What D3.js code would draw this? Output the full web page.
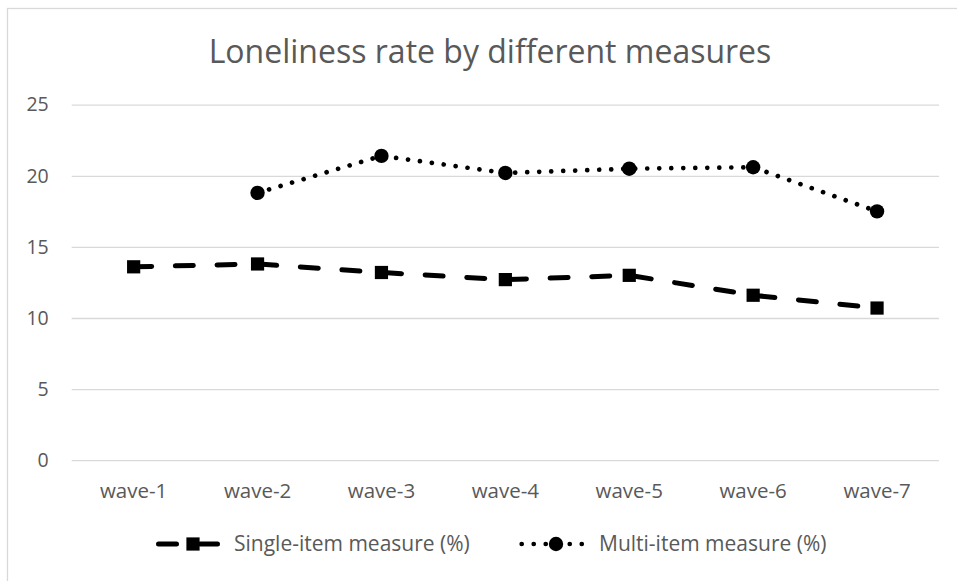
<!DOCTYPE html>
<html>
<head>
<meta charset="utf-8">
<script src="https://cdn.jsdelivr.net/npm/d3@7"></script>
<style>
  html, body { margin: 0; padding: 0; background: #fff; }
  svg { display: block; }
  text { font-family: "Open Sans", "Noto Sans", sans-serif; fill: #595959; }
</style>
</head>
<body>
<svg id="chart" width="957" height="581"></svg>
<script>
// Loneliness rate (%) per survey wave, by measure
const waves = ["wave-1", "wave-2", "wave-3", "wave-4", "wave-5", "wave-6", "wave-7"];
const singleItem = [13.6, 13.8, 13.2, 12.7, 13.0, 11.6, 10.7];
const multiItem = [null, 18.8, 21.4, 20.2, 20.5, 20.6, 17.5];
const yTicks = [0, 5, 10, 15, 20, 25];
const titleText = "Loneliness rate by different measures";
const seriesNames = ["Single-item measure (%)", "Multi-item measure (%)"];

const plot = { left: 71.7, right: 939, top: 104.7, bottom: 460.2 };

const svg = d3.select("#chart");

// chart frame
svg.append("rect")
  .attr("x", 7.5).attr("y", 8.5)
  .attr("width", 1000).attr("height", 1000)
  .attr("fill", "#fff").attr("stroke", "#d9d9d9").attr("stroke-width", 1.3);

const x = d3.scaleBand().domain(waves).range([plot.left, plot.right]);
const y = d3.scaleLinear().domain([0, 25]).range([plot.bottom, plot.top]);

// title
svg.append("text")
  .attr("x", 490).attr("y", 63)
  .attr("text-anchor", "middle")
  .style("font-size", "32px")
  .text(titleText);

// horizontal gridlines + y labels
const yAxis = d3.axisLeft(y).tickValues(yTicks)
  .tickSize(-(plot.right - plot.left)).tickPadding(23).tickFormat(d3.format("d"));
const gy = svg.append("g").attr("transform", `translate(${plot.left},0)`).call(yAxis);
gy.select(".domain").remove();
gy.selectAll(".tick line").attr("stroke", "#d9d9d9").attr("stroke-width", 1.3);
gy.selectAll(".tick text")
  .attr("fill", "#595959")
  .style("font-size", "19.5px")
  .style("font-family", "'Open Sans', sans-serif");

// category labels
const xAxis = d3.axisBottom(x).tickSize(0).tickPadding(0);
const gx = svg.append("g").attr("transform", `translate(0,${plot.bottom})`).call(xAxis);
gx.select(".domain").remove();
gx.selectAll(".tick text")
  .attr("fill", "#595959")
  .attr("dy", null)
  .attr("y", 38)
  .style("font-size", "20.5px")
  .style("font-family", "'Open Sans', sans-serif");

const cx = d => x(d) + x.bandwidth() / 2;

const dashStyle = { width: 5, dash: "18 23.7", cap: "round" };
const dotStyle = { width: 4.7, dash: "0.01 12", cap: "round" };

function drawSeries(values, style, marker) {
  const pts = waves.map((w, i) => ({ w, v: values[i] })).filter(p => p.v != null);
  const line = d3.line().x(p => cx(p.w)).y(p => y(p.v));
  svg.append("path")
    .datum(pts)
    .attr("d", line)
    .attr("fill", "none")
    .attr("stroke", "#000")
    .attr("stroke-width", style.width)
    .attr("stroke-dasharray", style.dash)
    .attr("stroke-linecap", style.cap)
    .attr("stroke-linejoin", "round");
  const g = svg.append("g");
  pts.forEach(p => marker(g, cx(p.w), y(p.v)));
}

const square = (g, px, py) => g.append("rect")
  .attr("x", px - 6.6).attr("y", py - 6.6)
  .attr("width", 13.2).attr("height", 13.2).attr("fill", "#000");
const circle = (g, px, py) => g.append("circle")
  .attr("cx", px).attr("cy", py).attr("r", 7.2).attr("fill", "#000");

drawSeries(singleItem, dashStyle, square);
drawSeries(multiItem, dotStyle, circle);

// legend
const ly = 544;
const legend = svg.append("g");
legend.append("line")
  .attr("x1", 158.5).attr("x2", 217.5).attr("y1", ly).attr("y2", ly)
  .attr("stroke", "#000").attr("stroke-width", dashStyle.width)
  .attr("stroke-dasharray", dashStyle.dash).attr("stroke-linecap", "round");
square(legend, 193, ly);
legend.append("text")
  .attr("x", 234).attr("y", ly).attr("dy", "0.35em")
  .style("font-size", "21px")
  .text(seriesNames[0]);

legend.append("line")
  .attr("x1", 521.7).attr("x2", 582).attr("y1", ly).attr("y2", ly)
  .attr("stroke", "#000").attr("stroke-width", dotStyle.width)
  .attr("stroke-dasharray", dotStyle.dash).attr("stroke-linecap", "round");
circle(legend, 556, ly);
legend.append("text")
  .attr("x", 599).attr("y", ly).attr("dy", "0.35em")
  .style("font-size", "21px")
  .text(seriesNames[1]);
</script>
</body>
</html>
